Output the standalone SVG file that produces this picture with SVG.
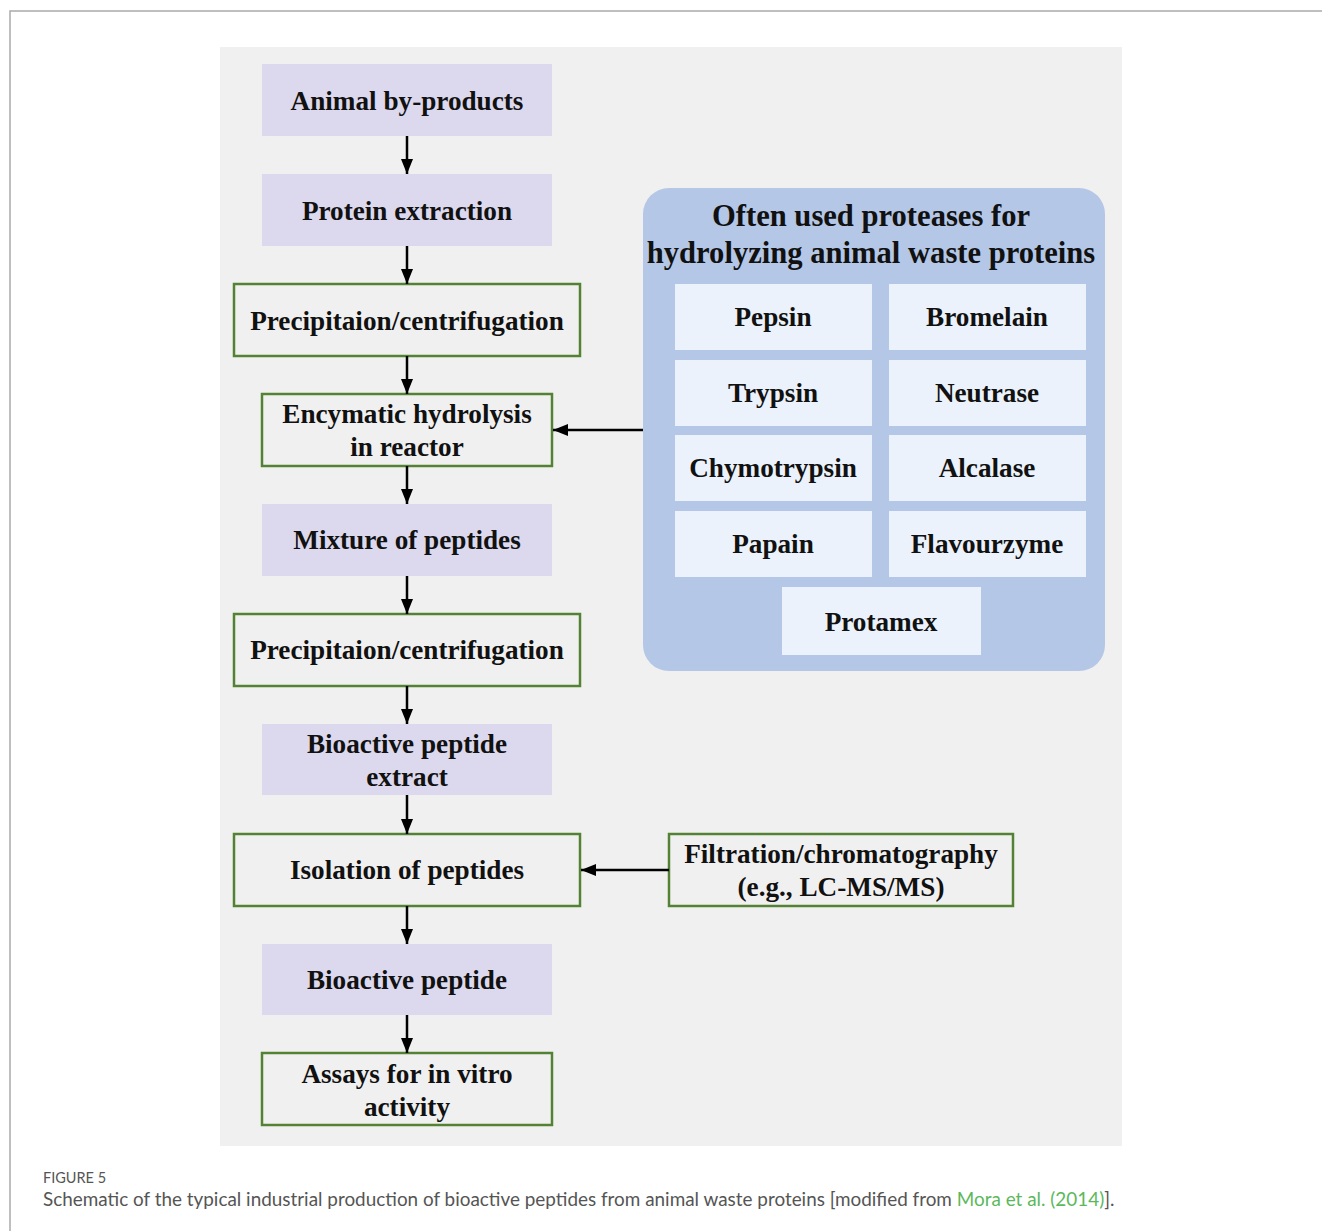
<svg xmlns="http://www.w3.org/2000/svg" width="1322" height="1231" viewBox="0 0 1322 1231">
<defs>
<style>
.lav{fill:#dcd9ee;}
.grn{fill:#f0f0f0;stroke:#548235;stroke-width:2.5;}
.cell{fill:#ebf2fb;}
.t{font-family:"Liberation Serif",serif;font-weight:bold;font-size:27.2px;fill:#111;text-anchor:middle;}
.h{font-family:"Liberation Serif",serif;font-weight:bold;font-size:30.6px;fill:#111;text-anchor:middle;}
.ln{stroke:#000;stroke-width:2.5;fill:none;marker-end:url(#ah);}
.cap{font-family:"Lato","Open Sans",sans-serif;fill:#555;}
</style>
<marker id="ah" viewBox="0 0 10 10" refX="10" refY="5" markerWidth="6" markerHeight="6" markerUnits="strokeWidth" orient="auto">
<path d="M0,1 L10,5 L0,9 Z" fill="#000"/>
</marker>
</defs>
<rect width="1322" height="1231" fill="#fff"/>
<path d="M10,1231 V11 H1322" fill="none" stroke="#aaa" stroke-width="1.5"/>
<rect x="220" y="47" width="902" height="1099" fill="#f0f0f0"/>

<g id="n1"><rect class="lav" x="262" y="64" width="290" height="72"/><text class="t" x="407" y="110">Animal by-products</text></g>
<g id="n2"><rect class="lav" x="262" y="174" width="290" height="72"/><text class="t" x="407" y="220">Protein extraction</text></g>
<g id="n3"><rect class="grn" x="234" y="284" width="346" height="72"/><text class="t" x="407" y="330">Precipitaion/centrifugation</text></g>
<g id="n4"><rect class="grn" x="262" y="394" width="290" height="72"/><text class="t" x="407" y="423">Encymatic hydrolysis</text><text class="t" x="407" y="456">in reactor</text></g>
<g id="n5"><rect class="lav" x="262" y="504" width="290" height="72"/><text class="t" x="407" y="549">Mixture of peptides</text></g>
<g id="n6"><rect class="grn" x="234" y="614" width="346" height="72"/><text class="t" x="407" y="659">Precipitaion/centrifugation</text></g>
<g id="n7"><rect class="lav" x="262" y="724" width="290" height="71"/><text class="t" x="407" y="753">Bioactive peptide</text><text class="t" x="407" y="786">extract</text></g>
<g id="n8"><rect class="grn" x="234" y="834" width="346" height="72"/><text class="t" x="407" y="879">Isolation of peptides</text></g>
<g id="n9"><rect class="lav" x="262" y="944" width="290" height="71"/><text class="t" x="407" y="989">Bioactive peptide</text></g>
<g id="n10"><rect class="grn" x="262" y="1053" width="290" height="72"/><text class="t" x="407" y="1083">Assays for in vitro</text><text class="t" x="407" y="1116">activity</text></g>

<g id="proteases">
<rect x="643" y="188" width="462" height="483" rx="26" fill="#b4c7e7"/>
<text class="h" x="871" y="226">Often used proteases for</text>
<text class="h" x="871" y="263">hydrolyzing animal waste proteins</text>
<g id="p1"><rect class="cell" x="675" y="284" width="197" height="66"/><text class="t" x="773" y="326">Pepsin</text></g>
<g id="p2"><rect class="cell" x="889" y="284" width="197" height="66"/><text class="t" x="987" y="326">Bromelain</text></g>
<g id="p3"><rect class="cell" x="675" y="360" width="197" height="66"/><text class="t" x="773" y="402">Trypsin</text></g>
<g id="p4"><rect class="cell" x="889" y="360" width="197" height="66"/><text class="t" x="987" y="402">Neutrase</text></g>
<g id="p5"><rect class="cell" x="675" y="435" width="197" height="66"/><text class="t" x="773" y="477">Chymotrypsin</text></g>
<g id="p6"><rect class="cell" x="889" y="435" width="197" height="66"/><text class="t" x="987" y="477">Alcalase</text></g>
<g id="p7"><rect class="cell" x="675" y="511" width="197" height="66"/><text class="t" x="773" y="553">Papain</text></g>
<g id="p8"><rect class="cell" x="889" y="511" width="197" height="66"/><text class="t" x="987" y="553">Flavourzyme</text></g>
<g id="p9"><rect class="cell" x="782" y="587" width="199" height="68"/><text class="t" x="881" y="631">Protamex</text></g>
</g>

<g id="n11"><rect class="grn" x="669" y="834" width="344" height="72"/><text class="t" x="841" y="863">Filtration/chromatography</text><text class="t" x="841" y="896">(e.g., LC-MS/MS)</text></g>

<g id="connectors">
<line class="ln" x1="407" y1="136" x2="407" y2="174"/>
<line class="ln" x1="407" y1="246" x2="407" y2="284"/>
<line class="ln" x1="407" y1="356" x2="407" y2="394"/>
<line class="ln" x1="407" y1="466" x2="407" y2="504"/>
<line class="ln" x1="407" y1="576" x2="407" y2="614"/>
<line class="ln" x1="407" y1="686" x2="407" y2="724"/>
<line class="ln" x1="407" y1="795" x2="407" y2="834"/>
<line class="ln" x1="407" y1="906" x2="407" y2="944"/>
<line class="ln" x1="407" y1="1015" x2="407" y2="1053"/>
<line class="ln" x1="643" y1="430" x2="553" y2="430"/>
<line class="ln" x1="669" y1="870" x2="581" y2="870"/>
</g>

<text class="cap" x="43" y="1183" font-size="14.5" fill="#666">FIGURE 5</text>
<text class="cap" x="43" y="1206" font-size="18.9">Schematic of the typical industrial production of bioactive peptides from animal waste proteins [modified from <tspan fill="#5cb85c">Mora et al. (2014)</tspan>].</text>
</svg>
